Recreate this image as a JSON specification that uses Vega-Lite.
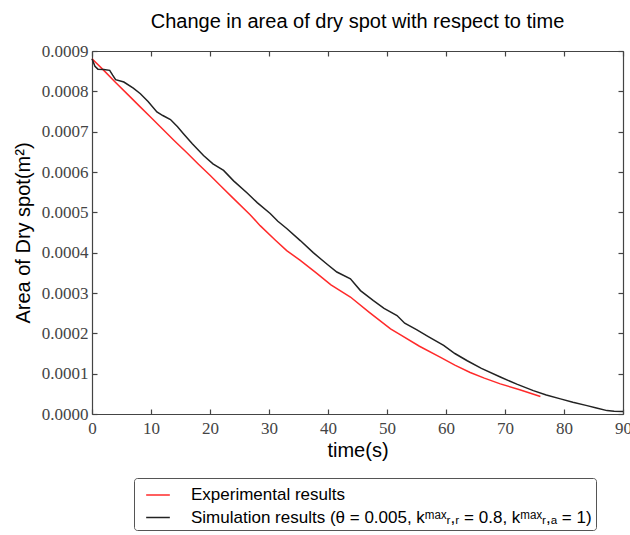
{
  "$schema": "https://vega.github.io/schema/vega-lite/v6.json",
  "width": 531,
  "height": 363,
  "autosize": {"type": "none"},
  "padding": {"left": 92, "top": 51, "right": 7, "bottom": 121},
  "title": {"text": "Change in area of dry spot with respect to time", "font": "Liberation Sans", "fontSize": 20, "fontWeight": "normal", "color": "#000", "anchor": "middle", "baseline": "alphabetic", "offset": -6},
  "config": {
    "view": {"stroke": null},
    "axis": {"grid": false, "domainColor": "#444", "domainWidth": 1.2, "tickColor": "#444", "tickWidth": 1.2, "labelFont": "Liberation Serif", "labelFontSize": 17, "labelColor": "#444", "labelFlush": false, "titleFont": "Liberation Sans", "titleFontSize": 20, "titleFontWeight": "normal", "titleColor": "#000"}
  },
  "datasets": {
    "d": [
      {"s": "Experimental results", "t": 0, "a": 0.000881},
      {"s": "Experimental results", "t": 2, "a": 0.000852},
      {"s": "Experimental results", "t": 4, "a": 0.000822},
      {"s": "Experimental results", "t": 6, "a": 0.000793},
      {"s": "Experimental results", "t": 8, "a": 0.000764},
      {"s": "Experimental results", "t": 10, "a": 0.000735},
      {"s": "Experimental results", "t": 12, "a": 0.000706},
      {"s": "Experimental results", "t": 14, "a": 0.000677},
      {"s": "Experimental results", "t": 16, "a": 0.000649},
      {"s": "Experimental results", "t": 18, "a": 0.00062},
      {"s": "Experimental results", "t": 20, "a": 0.000592},
      {"s": "Experimental results", "t": 22, "a": 0.000563},
      {"s": "Experimental results", "t": 24, "a": 0.000534},
      {"s": "Experimental results", "t": 26.8, "a": 0.000494},
      {"s": "Experimental results", "t": 28.5, "a": 0.000467},
      {"s": "Experimental results", "t": 31, "a": 0.000432},
      {"s": "Experimental results", "t": 33, "a": 0.000405},
      {"s": "Experimental results", "t": 35.3, "a": 0.000381},
      {"s": "Experimental results", "t": 38, "a": 0.00035},
      {"s": "Experimental results", "t": 40.5, "a": 0.00032},
      {"s": "Experimental results", "t": 43.8, "a": 0.00029},
      {"s": "Experimental results", "t": 47, "a": 0.000252},
      {"s": "Experimental results", "t": 50.6, "a": 0.000211},
      {"s": "Experimental results", "t": 52.3, "a": 0.000196},
      {"s": "Experimental results", "t": 55.5, "a": 0.000168},
      {"s": "Experimental results", "t": 59, "a": 0.000141},
      {"s": "Experimental results", "t": 61.5, "a": 0.000121},
      {"s": "Experimental results", "t": 64.1, "a": 0.000103},
      {"s": "Experimental results", "t": 66.5, "a": 0.000089},
      {"s": "Experimental results", "t": 69.2, "a": 0.0000747},
      {"s": "Experimental results", "t": 72.5, "a": 0.00006},
      {"s": "Experimental results", "t": 76, "a": 0.0000432},
      {"s": "sim", "t": 0, "a": 0.000881},
      {"s": "sim", "t": 0.5, "a": 0.000862},
      {"s": "sim", "t": 1, "a": 0.000855},
      {"s": "sim", "t": 2, "a": 0.000854},
      {"s": "sim", "t": 3, "a": 0.000852},
      {"s": "sim", "t": 3.5, "a": 0.00084},
      {"s": "sim", "t": 4, "a": 0.000829},
      {"s": "sim", "t": 5.4, "a": 0.000823},
      {"s": "sim", "t": 7, "a": 0.000808},
      {"s": "sim", "t": 8.2, "a": 0.000794},
      {"s": "sim", "t": 9.5, "a": 0.000775},
      {"s": "sim", "t": 11, "a": 0.000749},
      {"s": "sim", "t": 12, "a": 0.00074},
      {"s": "sim", "t": 13.3, "a": 0.00073},
      {"s": "sim", "t": 14.5, "a": 0.000712},
      {"s": "sim", "t": 15.5, "a": 0.000695},
      {"s": "sim", "t": 17, "a": 0.00067},
      {"s": "sim", "t": 18.9, "a": 0.000641},
      {"s": "sim", "t": 20.5, "a": 0.00062},
      {"s": "sim", "t": 22.3, "a": 0.000604},
      {"s": "sim", "t": 24, "a": 0.000578},
      {"s": "sim", "t": 26.3, "a": 0.000548},
      {"s": "sim", "t": 28, "a": 0.000524},
      {"s": "sim", "t": 30.2, "a": 0.000497},
      {"s": "sim", "t": 31.5, "a": 0.000478},
      {"s": "sim", "t": 33, "a": 0.00046},
      {"s": "sim", "t": 35.3, "a": 0.00043},
      {"s": "sim", "t": 37.5, "a": 0.0004},
      {"s": "sim", "t": 39.8, "a": 0.000372},
      {"s": "sim", "t": 41.5, "a": 0.000352},
      {"s": "sim", "t": 43.8, "a": 0.000335},
      {"s": "sim", "t": 45.5, "a": 0.000306},
      {"s": "sim", "t": 47.7, "a": 0.000281},
      {"s": "sim", "t": 49.5, "a": 0.000262},
      {"s": "sim", "t": 51.7, "a": 0.000244},
      {"s": "sim", "t": 53, "a": 0.000225},
      {"s": "sim", "t": 55, "a": 0.000209},
      {"s": "sim", "t": 57, "a": 0.000192},
      {"s": "sim", "t": 59.6, "a": 0.00017},
      {"s": "sim", "t": 61.5, "a": 0.00015},
      {"s": "sim", "t": 63.6, "a": 0.000132},
      {"s": "sim", "t": 66, "a": 0.000113},
      {"s": "sim", "t": 69.3, "a": 0.000091},
      {"s": "sim", "t": 72, "a": 0.000074},
      {"s": "sim", "t": 74.8, "a": 0.000058},
      {"s": "sim", "t": 77, "a": 0.000047},
      {"s": "sim", "t": 79.4, "a": 0.0000375},
      {"s": "sim", "t": 81.5, "a": 0.000029},
      {"s": "sim", "t": 83.9, "a": 0.0000208},
      {"s": "sim", "t": 85.5, "a": 0.000015},
      {"s": "sim", "t": 87.3, "a": 0.0000084},
      {"s": "sim", "t": 88.5, "a": 0.000007},
      {"s": "sim", "t": 90, "a": 0.000006}
    ]
  },
  "data": {"name": "d"},
  "transform": [
    {"calculate": "datum.s === 'sim' ? 'Simulation results (θ = 0.005, kᵐᵃˣᵣ,ᵣ = 0.8, kᵐᵃˣᵣ,ₐ = 1)' : datum.s", "as": "series"}
  ],
  "layer": [
    {
      "mark": {"type": "line", "strokeWidth": 1.5},
      "encoding": {
        "x": {"field": "t", "type": "quantitative", "scale": {"domain": [0, 90], "nice": false},
              "axis": {"orient": "bottom", "values": [0, 10, 20, 30, 40, 50, 60, 70, 80, 90], "format": "d", "tickSize": -5, "labelPadding": 11, "title": "time(s)", "titlePadding": 4}},
        "y": {"field": "a", "type": "quantitative", "scale": {"domain": [0, 0.0009], "nice": false},
              "axis": {"orient": "left", "values": [0, 0.0001, 0.0002, 0.0003, 0.0004, 0.0005, 0.0006, 0.0007, 0.0008, 0.0009], "format": ".4f", "tickSize": -5, "labelPadding": 9, "title": "Area of Dry spot(m²)", "titlePadding": 8}},
        "color": {"field": "series", "type": "nominal",
                  "scale": {"domain": ["Experimental results", "Simulation results (θ = 0.005, kᵐᵃˣᵣ,ᵣ = 0.8, kᵐᵃˣᵣ,ₐ = 1)"], "range": ["#ff2a2a", "#222222"]},
                  "legend": {"orient": "none", "legendX": 42, "legendY": 427, "title": null, "direction": "vertical", "symbolType": "stroke", "symbolSize": 560, "symbolStrokeWidth": 1.5, "symbolOffset": 7, "labelFont": "Liberation Sans", "labelFontSize": 17, "labelColor": "#000", "labelOffset": 20, "labelLimit": 600, "padding": 4, "rowPadding": 1.5, "strokeColor": "#555", "cornerRadius": 3, "fillColor": "#fff"}}
      }
    },
    {
      "mark": {"type": "point", "opacity": 0},
      "encoding": {
        "x": {"field": "t", "type": "quantitative", "axis": {"orient": "top", "values": [0, 10, 20, 30, 40, 50, 60, 70, 80, 90], "labels": false, "title": null, "tickSize": -5}},
        "y": {"field": "a", "type": "quantitative", "axis": {"orient": "right", "values": [0, 0.0001, 0.0002, 0.0003, 0.0004, 0.0005, 0.0006, 0.0007, 0.0008, 0.0009], "labels": false, "title": null, "tickSize": -5}}
      }
    }
  ],
  "resolve": {"axis": {"x": "independent", "y": "independent"}}
}
